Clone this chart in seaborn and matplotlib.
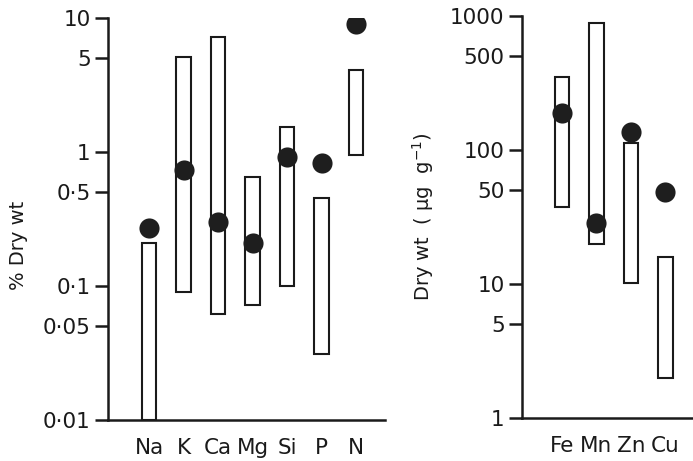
import numpy as np
import seaborn as sns
import matplotlib.pyplot as plt
from matplotlib.ticker import FixedLocator, NullLocator

# macro elements, % dry wt
macro = ["Na", "K", "Ca", "Mg", "Si", "P", "N"]
macro_low = [0.01, 0.09, 0.062, 0.072, 0.10, 0.031, 0.95]
macro_high = [0.21, 5.1, 7.2, 0.65, 1.54, 0.45, 4.1]
macro_dot = [0.27, 0.73, 0.30, 0.21, 0.92, 0.83, 9.0]
macro_ticks = [0.01, 0.05, 0.1, 0.5, 1, 5, 10]
macro_ticklabels = ["0·01", "0·05", "0·1", "0·5", "1", "5", "10"]

# trace elements, ug/g dry wt
trace = ["Fe", "Mn", "Zn", "Cu"]
trace_low = [37.6, 20, 10.2, 2.0]
trace_high = [350, 890, 113, 15.9]
trace_dot = [189, 28.5, 136, 49]
trace_ticks = [1, 5, 10, 50, 100, 500, 1000]
trace_ticklabels = ["1", "5", "10", "50", "100", "500", "1000"]

sns.set_style("ticks")
plt.rcParams["font.family"] = ["DejaVu Sans"]

fig = plt.figure(figsize=(6.93, 4.61), dpi=100)
ax1 = fig.add_axes([0.1558, 0.0889, 0.3998, 0.872])
ax2 = fig.add_axes([0.7532, 0.0933, 0.2468, 0.872])

lw = 1.8
dot_col = "#1e1e1e"


def panel(ax, cats, low, high, dots, ticks, ticklabels, ylim, xlim, ylabel):
    heights = np.array(high) - np.array(low)
    ax.bar(cats, heights, bottom=low, width=0.42, color="white",
           edgecolor="#1a1a1a", linewidth=1.5, zorder=2)
    sns.scatterplot(x=cats, y=dots, ax=ax, s=210, color=dot_col,
                    edgecolor=dot_col, linewidth=0, zorder=3)
    ax.set_yscale("log")
    ax.set_ylim(*ylim)
    ax.set_xlim(*xlim)
    ax.yaxis.set_major_locator(FixedLocator(ticks))
    ax.yaxis.set_minor_locator(NullLocator())
    ax.set_yticklabels(ticklabels)
    ax.tick_params(axis="y", length=9.5, width=lw, pad=3, labelsize=15.5,
                   colors="#1a1a1a")
    ax.tick_params(axis="x", length=0, pad=13, labelsize=15.5,
                   colors="#1a1a1a")
    for s in ["top", "right"]:
        ax.spines[s].set_visible(False)
    for s in ["left", "bottom"]:
        ax.spines[s].set_linewidth(lw)
        ax.spines[s].set_color("#1a1a1a")
    ax.set_ylabel(ylabel, fontsize=14, color="#1a1a1a")
    ax.set_facecolor("none")


panel(ax1, macro, macro_low, macro_high, macro_dot, macro_ticks,
      macro_ticklabels, (0.01, 10), (-1.19, 6.84), "% Dry wt")
ax1.yaxis.set_label_coords(-0.29, 0.435)

panel(ax2, trace, trace_low, trace_high, trace_dot, trace_ticks,
      trace_ticklabels, (1, 1000), (-1.16, 3.8),
      "Dry wt  ( μg  g$^{-1}$)")
ax2.yaxis.set_label_coords(-0.50, 0.5)

fig.savefig("out.png", dpi=100)
